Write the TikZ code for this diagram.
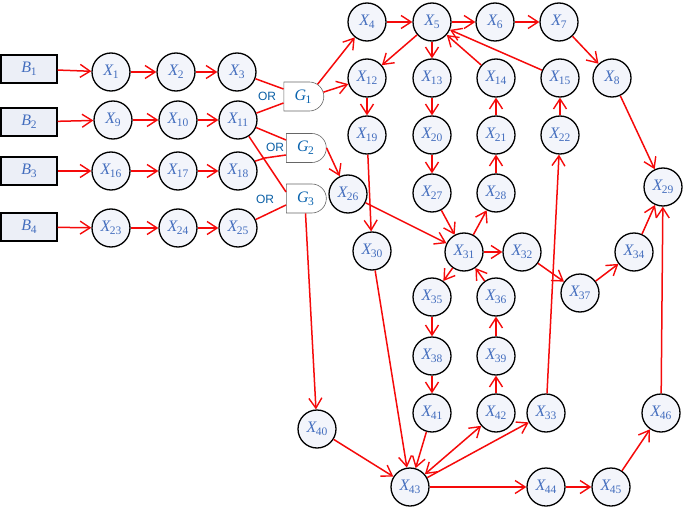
\documentclass[tikz,border=0pt]{standalone}
\usepackage{fontspec}
\setmainfont{Liberation Serif}
\newfontfamily\orfont{Liberation Sans}
\usetikzlibrary{arrows.meta,shapes.misc}
\definecolor{nodefill}{RGB}{243,245,251}
\definecolor{boxfill}{RGB}{236,239,247}
\definecolor{nodetext}{RGB}{68,110,190}
\definecolor{gatetext}{RGB}{10,100,175}
\definecolor{ortext}{RGB}{10,95,165}
\definecolor{edgered}{RGB}{245,10,10}
\newcommand{\lab}[2]{{\itshape #1}\kern-0.5pt\raisebox{-0.17em}{\fontsize{11.5}{12}\selectfont #2}}
\tikzset{
  xnode/.style={circle, draw=black, line width=1.3pt, minimum size=38pt, inner sep=0pt,
    fill=nodefill, text=nodetext, font=\fontsize{16}{18}\selectfont},
  bbox/.style={rectangle, draw=black, line width=1.2pt, minimum width=56pt, minimum height=28pt,
    inner sep=0pt, fill=boxfill, text=nodetext, font=\fontsize{16}{18}\selectfont},
  gate/.style={rounded rectangle, rounded rectangle left arc=none, draw=black!60, line width=0.6pt,
    fill=white, minimum width=40pt, minimum height=29pt, inner sep=0pt, text=gatetext,
    font=\fontsize{16}{18}\selectfont},
  orlabel/.style={text=ortext, font=\orfont\fontsize{12}{14}\selectfont, inner sep=0pt},
  edge/.style={draw=edgered, line width=1.5pt, -{Straight Barb[length=10pt,width=13pt,line width=1.4pt]}},
  biedge/.style={draw=edgered, line width=1.5pt, {Straight Barb[length=10pt,width=13pt,line width=1.4pt]}-{Straight Barb[length=10pt,width=13pt,line width=1.4pt]}},
  wire/.style={draw=edgered, line width=1.5pt},
}
\begin{document}
\begin{tikzpicture}[x=1pt,y=-1pt]
\useasboundingbox (0,0) rectangle (685,508);
% B boxes
\node[bbox] (B1) at (29,69) {\lab{B}{1}};
\node[bbox] (B2) at (29,122) {\lab{B}{2}};
\node[bbox] (B3) at (29,171) {\lab{B}{3}};
\node[bbox] (B4) at (29,227) {\lab{B}{4}};
% left chain
\node[xnode] (X1) at (111,72) {\lab{X}{1}};
\node[xnode] (X2) at (176,72) {\lab{X}{2}};
\node[xnode] (X3) at (237,72) {\lab{X}{3}};
\node[xnode] (X9) at (113,120) {\lab{X}{9}};
\node[xnode] (X10) at (178,120) {\lab{X}{10}};
\node[xnode] (X11) at (238,120) {\lab{X}{11}};
\node[xnode] (X16) at (111,171) {\lab{X}{16}};
\node[xnode] (X17) at (178,171) {\lab{X}{17}};
\node[xnode] (X18) at (238,171) {\lab{X}{18}};
\node[xnode] (X23) at (111,228) {\lab{X}{23}};
\node[xnode] (X24) at (178,228) {\lab{X}{24}};
\node[xnode] (X25) at (238,228) {\lab{X}{25}};
% gates
\node[gate] (G1) at (303,96.5) {\lab{G}{1}};
\node[gate] (G2) at (305.5,148) {\lab{G}{2}};
\node[gate] (G3) at (305.5,198.5) {\lab{G}{3}};
\node[orlabel] (OR1) at (267,96) {OR};
\node[orlabel] (OR2) at (275,147) {OR};
\node[orlabel] (OR3) at (265,199) {OR};
% right part
\node[xnode] (X4) at (367,22) {\lab{X}{4}};
\node[xnode] (X5) at (432,22) {\lab{X}{5}};
\node[xnode] (X6) at (495,22) {\lab{X}{6}};
\node[xnode] (X7) at (559,22) {\lab{X}{7}};
\node[xnode] (X12) at (367,78) {\lab{X}{12}};
\node[xnode] (X13) at (432,78) {\lab{X}{13}};
\node[xnode] (X14) at (496,78) {\lab{X}{14}};
\node[xnode] (X15) at (560,78) {\lab{X}{15}};
\node[xnode] (X8) at (612,78) {\lab{X}{8}};
\node[xnode] (X19) at (367,135) {\lab{X}{19}};
\node[xnode] (X20) at (432,135) {\lab{X}{20}};
\node[xnode] (X21) at (496,135) {\lab{X}{21}};
\node[xnode] (X22) at (560,135) {\lab{X}{22}};
\node[xnode] (X26) at (348,194) {\lab{X}{26}};
\node[xnode] (X27) at (432,193) {\lab{X}{27}};
\node[xnode] (X28) at (496,193) {\lab{X}{28}};
\node[xnode] (X29) at (663,187) {\lab{X}{29}};
\node[xnode] (X30) at (372,251) {\lab{X}{30}};
\node[xnode] (X31) at (464,252) {\lab{X}{31}};
\node[xnode] (X32) at (522,252) {\lab{X}{32}};
\node[xnode] (X34) at (634,252) {\lab{X}{34}};
\node[xnode] (X37) at (580,293) {\lab{X}{37}};
\node[xnode] (X35) at (432,297) {\lab{X}{35}};
\node[xnode] (X36) at (496,297) {\lab{X}{36}};
\node[xnode] (X38) at (432,356) {\lab{X}{38}};
\node[xnode] (X39) at (496,356) {\lab{X}{39}};
\node[xnode] (X41) at (432,413) {\lab{X}{41}};
\node[xnode] (X42) at (496,413) {\lab{X}{42}};
\node[xnode] (X33) at (546,413) {\lab{X}{33}};
\node[xnode] (X46) at (661,413) {\lab{X}{46}};
\node[xnode] (X40) at (317,429) {\lab{X}{40}};
\node[xnode] (X43) at (410,487) {\lab{X}{43}};
\node[xnode] (X44) at (546,487) {\lab{X}{44}};
\node[xnode] (X45) at (611,487) {\lab{X}{45}};
% left edges
\draw[edge] (B1) -- (X1);
\draw[edge] (X1) -- (X2);
\draw[edge] (X2) -- (X3);
\draw[edge] (B2) -- (X9);
\draw[edge] (X9) -- (X10);
\draw[edge] (X10) -- (X11);
\draw[edge] (B3) -- (X16);
\draw[edge] (X16) -- (X17);
\draw[edge] (X17) -- (X18);
\draw[edge] (B4) -- (X23);
\draw[edge] (X23) -- (X24);
\draw[edge] (X24) -- (X25);
% gate inputs
\draw[wire] (X3) -- ([yshift=7.5pt]G1.west);
\draw[wire] (X11) -- ([yshift=-6.5pt]G1.west);
\draw[wire] (X11) -- ([yshift=8pt]G2.west);
\draw[wire] (X18.30) -- (265,158) -- ([yshift=-7pt]G2.west);
\draw[wire] (X11) -- ([yshift=6.5pt]G3.west);
\draw[wire] (X25) -- ([yshift=-6.5pt]G3.west);
% gate outputs
\draw[edge] (G1.40) -- (X4);
\draw[edge] (G1.12) -- (X12);
\draw[edge] (G2.east) -- (X26);
\draw[edge] (G3.south) -- (X40);
% top
\draw[edge] (X4) -- (X5);
\draw[edge] (X5) -- (X6);
\draw[edge] (X6) -- (X7);
\draw[edge] (X7) -- (X8);
\draw[edge] (X8) -- (X29);
\draw[edge] (X5) -- (X12);
\draw[edge] (X5) -- (X13);
\draw[edge] (X14) -- (X5);
\draw[edge] (X15) -- (X5);
\draw[edge] (X12) -- (X19);
\draw[edge] (X13) -- (X20);
\draw[edge] (X20) -- (X27);
\draw[edge] (X28) -- (X21);
\draw[edge] (X21) -- (X14);
\draw[edge] (X22) -- (X15);
\draw[edge] (X19) -- (X30);
\draw[edge] (X26) -- (X31);
\draw[edge] (X27) -- (X31);
\draw[edge] (X31) -- (X28);
\draw[edge] (X31) -- (X32);
\draw[edge] (X31) -- (X35);
\draw[edge] (X36) -- (X31);
\draw[edge] (X32) -- (X37);
\draw[edge] (X37) -- (X34);
\draw[edge] (X34) -- (X29);
\draw[edge] (X46) -- (X29);
\draw[edge] (X35) -- (X38);
\draw[edge] (X38) -- (X41);
\draw[edge] (X39) -- (X36);
\draw[edge] (X42) -- (X39);
\draw[edge] (X33) -- (X22);
% bottom
\draw[edge] (X30) -- (X43);
\draw[edge] (X40) -- (X43);
\draw[edge] (X41) -- (X43);
\draw[biedge] (X43) -- (X42);
\draw[edge] (X43) -- (X33);
\draw[edge] (X43) -- (X44);
\draw[edge] (X44) -- (X45);
\draw[edge] (X45) -- (X46);
\end{tikzpicture}
\end{document}
